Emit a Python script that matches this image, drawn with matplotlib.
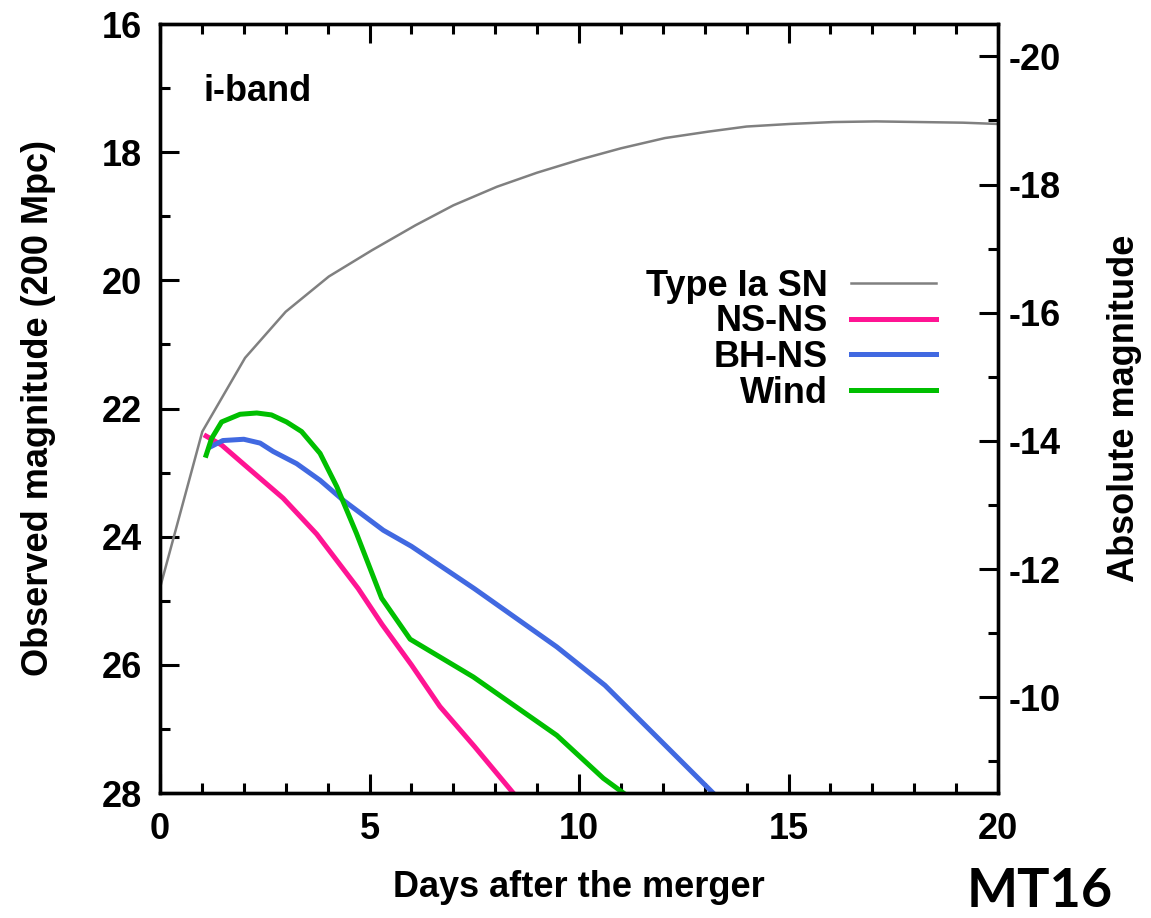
import matplotlib
matplotlib.use('Agg')
import matplotlib.pyplot as plt
from matplotlib.ticker import MultipleLocator
import numpy as np

plt.rcParams['font.family'] = ['Liberation Sans', 'DejaVu Sans']
plt.rcParams['font.weight'] = 'bold'
plt.rcParams['axes.unicode_minus'] = False

# distance modulus for 200 Mpc
DIST_MOD = 5 * np.log10(200e6 / 10)

# Type Ia SN (grey)
sn_days = [0.0, 1.01, 2.03, 3.0, 4.03, 5.06, 6.1, 7.0, 8.04, 9.0, 10.05, 11.0,
           12.05, 13.08, 14.0, 15.03, 16.07, 17.09, 18.13, 19.17, 20.0]
sn_mag = [24.8, 22.36, 21.21, 20.49, 19.94, 19.53, 19.14, 18.83, 18.54, 18.32, 18.11,
          17.94, 17.78, 17.68, 17.6, 17.56, 17.53, 17.52, 17.53, 17.54, 17.56]

# NS-NS
nsns_days = [1.1, 1.47, 2.0, 2.39, 2.94, 3.74, 4.73, 5.3, 6.0, 6.68, 7.5, 8.43]
nsns_mag = [22.43, 22.57, 22.87, 23.09, 23.40, 23.96, 24.81, 25.37, 26.0, 26.65, 27.27, 28.0]

# BH-NS
bhns_days = [1.2, 1.5, 2.0, 2.39, 2.7, 3.26, 3.82, 4.37, 5.33, 6.0, 7.5, 9.47, 10.62, 11.85, 13.2]
bhns_mag = [22.6, 22.5, 22.48, 22.54, 22.67, 22.86, 23.12, 23.43, 23.9, 24.15, 24.81,
            25.72, 26.32, 27.12, 28.0]

# Wind
wind_days = [1.1, 1.23, 1.47, 1.91, 2.31, 2.66, 3.02, 3.38, 3.82, 4.22, 4.69, 5.29,
             5.97, 7.48, 9.47, 10.58, 11.06]
wind_mag = [22.73, 22.47, 22.21, 22.09, 22.07, 22.1, 22.21, 22.36, 22.70, 23.22, 23.95,
            24.96, 25.6, 26.19, 27.1, 27.77, 28.0]

fig = plt.figure(figsize=(11.51, 9.18), dpi=100)
ax = fig.add_axes([160 / 1151, 1 - 793 / 918, 838 / 1151, 769 / 918])

ax.plot(sn_days, sn_mag, color='#808080', lw=1.8, label='Type Ia SN')
ax.plot(nsns_days, nsns_mag, color='#FF1493', lw=3.6, label='NS-NS')
ax.plot(bhns_days, bhns_mag, color='#4169E1', lw=3.6, label='BH-NS')
ax.plot(wind_days, wind_mag, color='#00BF00', lw=3.6, label='Wind')

ax.set_xlim(0, 20)
ax.set_ylim(28, 16)
ax.xaxis.set_major_locator(MultipleLocator(5))
ax.xaxis.set_minor_locator(MultipleLocator(1))
ax.yaxis.set_major_locator(MultipleLocator(2))
ax.yaxis.set_minor_locator(MultipleLocator(1))
ax.tick_params(which='both', direction='in', top=True, right=False, width=2.2, labelsize=26)
ax.tick_params(which='major', length=14)
ax.tick_params(which='minor', length=7.5)
ax.tick_params(axis='y', pad=13)
ax.tick_params(axis='x', pad=14)
for s in ax.spines.values():
    s.set_linewidth(2.4)

ax.set_xlabel('Days after the merger', fontsize=26, fontweight='bold', labelpad=16)
ax.set_ylabel('Observed magnitude (200 Mpc)', fontsize=26, fontweight='bold', labelpad=33)

ax2 = ax.twinx()
ax2.set_ylim(28 - DIST_MOD, 16 - DIST_MOD)
ax2.yaxis.set_major_locator(MultipleLocator(2))
ax2.yaxis.set_minor_locator(MultipleLocator(1))
ax2.tick_params(which='both', direction='in', width=2.2, labelsize=26, pad=8)
ax2.tick_params(which='major', length=14)
ax2.tick_params(which='minor', length=7.5)
ax2.set_ylabel('Absolute magnitude', fontsize=26, fontweight='bold', labelpad=33)
for s in ax2.spines.values():
    s.set_linewidth(2.4)

ax.text(1.03, 17.05, 'i-band', fontsize=26, fontweight='bold', ha='left', va='center')

leg = ax.legend(loc='upper right', bbox_to_anchor=(0.926, 0.682), frameon=False,
                markerfirst=False, fontsize=26, handlelength=2.36, handletextpad=0.64,
                labelspacing=0.02, borderpad=0, borderaxespad=0)

fig.text(967 / 1151, 0.002, 'MT16', fontsize=39, fontweight='bold',
         family=['Lato', 'DejaVu Sans'], ha='left', va='bottom')

fig.savefig('out.png', dpi=100)
